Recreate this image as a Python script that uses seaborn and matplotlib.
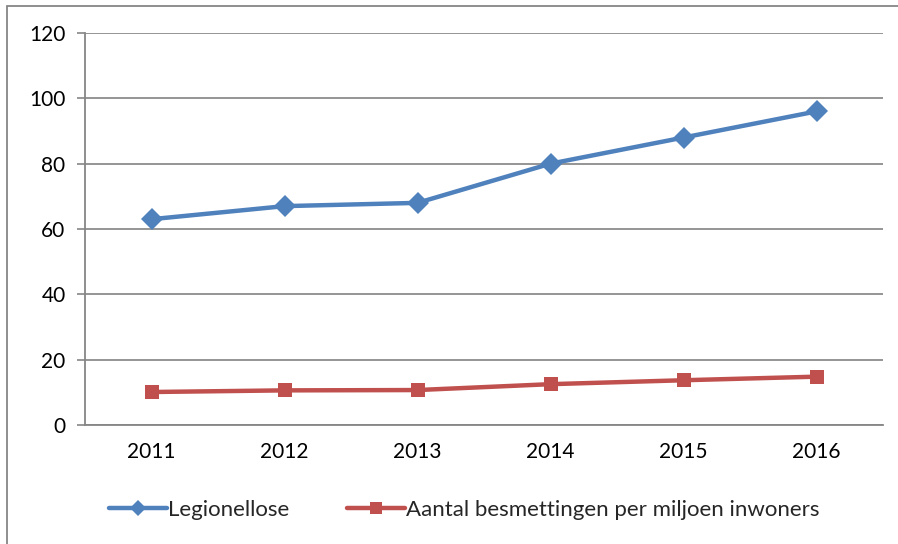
import matplotlib
matplotlib.use("Agg")
import matplotlib.pyplot as plt
from matplotlib.patches import Rectangle
from matplotlib.ticker import FixedLocator
import seaborn as sns
import pandas as pd
import numpy as np

years = ["2011", "2012", "2013", "2014", "2015", "2016"]
legionellose = [63, 67, 68, 80, 88, 96]
per_miljoen = [10.1, 10.6, 10.7, 12.5, 13.7, 14.8]
series_names = ["Legionellose", "Aantal besmettingen per miljoen inwoners"]
y_ticks = [0, 20, 40, 60, 80, 100, 120]

sns.set_theme(style="white")
plt.rcParams["font.family"] = ["Lato", "DejaVu Sans"]

df = pd.DataFrame({
    "x": list(range(len(years))) * 2,
    "value": legionellose + per_miljoen,
    "series": [series_names[0]] * len(years) + [series_names[1]] * len(years),
})

fig = plt.figure(figsize=(8.98, 5.44), dpi=100)
ax = fig.add_axes([85 / 898, 1 - 425 / 544, (883 - 85) / 898, (425 - 33) / 544])

palette = {series_names[0]: "#4F81BD", series_names[1]: "#C0504D"}
markers = {series_names[0]: "D", series_names[1]: "s"}
sizes = {series_names[0]: 11, series_names[1]: 10}

for name in series_names:
    sub = df[df["series"] == name]
    sns.lineplot(data=sub, x="x", y="value", ax=ax, color=palette[name],
                 marker=markers[name], markersize=sizes[name], linewidth=3.2,
                 markeredgewidth=0, label=name, zorder=3)

ax.set_xlim(-0.5, len(years) - 0.5)
ax.set_ylim(0, 120)
ax.set_yticks(y_ticks)
ax.set_yticklabels([str(t) for t in y_ticks], fontsize=15, color="black")
ax.set_xticks(range(len(years)))
ax.set_xticklabels(years, fontsize=15, color="black")
ax.xaxis.set_minor_locator(FixedLocator(np.arange(-0.5, len(years), 1.0)))
ax.tick_params(axis="x", which="major", length=0, pad=12)
ax.tick_params(axis="x", which="minor", length=6, width=1.2, color="#868686")
ax.tick_params(axis="y", which="major", length=6, width=1.2, color="#868686", pad=8, left=True)
ax.set_xlabel("")
ax.set_ylabel("")

ax.grid(axis="y", color="#8c8c8c", linewidth=1.3, zorder=0)
ax.set_axisbelow(True)
for s in ["top", "right"]:
    ax.spines[s].set_visible(False)
for s in ["left", "bottom"]:
    ax.spines[s].set_color("#868686")
    ax.spines[s].set_linewidth(1.3)

leg = ax.legend(loc="upper center", bbox_to_anchor=(0.475, -0.14), ncol=2, frameon=False,
                fontsize=16, handlelength=2.6, handletextpad=0.05, columnspacing=2.6)
for h in leg.legend_handles:
    h.set_markersize(8)

fig.patches.append(Rectangle((7 / 898, -0.2), 2, 1.2 - 6 / 544, transform=fig.transFigure,
                             fill=False, edgecolor="#868686", linewidth=1.3))

fig.savefig("out.png", dpi=100)
